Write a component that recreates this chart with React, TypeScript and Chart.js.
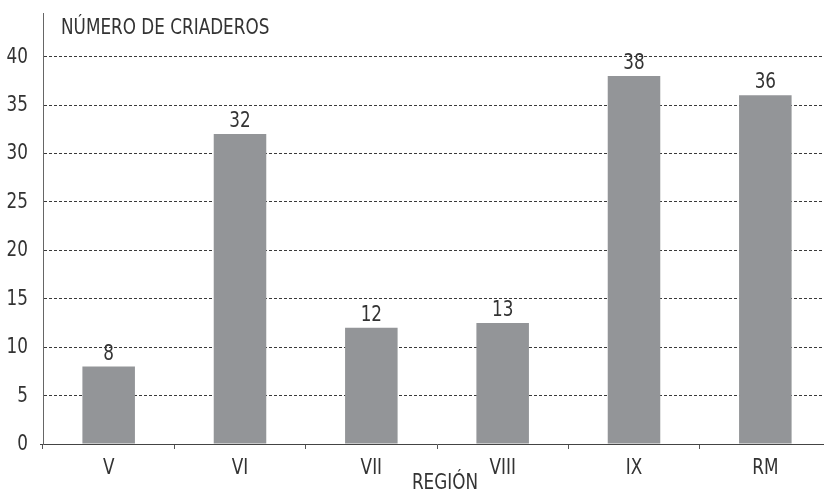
import React, { useEffect, useRef } from "react";
import { Chart, registerables } from "chart.js";

Chart.register(...registerables);

const categories = ["V", "VI", "VII", "VIII", "IX", "RM"];
const values = [8, 32, 12, 12.5, 38, 36];
const valueLabels = ["8", "32", "12", "13", "38", "36"];
const yTicks = [0, 5, 10, 15, 20, 25, 30, 35, 40];
const yTitle = "NÚMERO DE CRIADEROS";
const xTitle = "REGIÓN";

const FONT = "'DejaVu Sans Condensed', 'Liberation Sans Narrow', sans-serif";
const TEXT = "#333333";
const SIZE = 22;
const SQUEEZE = 0.85;

function drawText(ctx: CanvasRenderingContext2D, text: string, x: number, y: number, align: CanvasTextAlign) {
  ctx.save();
  ctx.translate(x, y);
  ctx.scale(SQUEEZE, 1);
  ctx.font = `${SIZE}px ${FONT}`;
  ctx.fillStyle = TEXT;
  ctx.textAlign = align;
  ctx.textBaseline = "alphabetic";
  ctx.fillText(text, 0, 0);
  ctx.restore();
}

const textLayer = {
  id: "textLayer",
  afterDraw(chart: any) {
    const ctx = chart.ctx;
    const xs = chart.scales.x;
    const ys = chart.scales.y;
    const area = chart.chartArea;
    // bar value labels
    const meta = chart.getDatasetMeta(0);
    meta.data.forEach((bar: any, i: number) => {
      drawText(ctx, valueLabels[i], bar.x, bar.y - 7, "center");
    });
    // y tick labels
    yTicks.forEach((v) => {
      drawText(ctx, String(v), area.left - 15, ys.getPixelForValue(v) + 6, "right");
    });
    // x tick labels
    categories.forEach((c, i) => {
      drawText(ctx, c, xs.getPixelForValue(i), area.bottom + 30, "center");
    });
    // axis titles
    drawText(ctx, xTitle, (area.left + area.right) / 2 + 8, area.bottom + 45, "center");
    drawText(ctx, yTitle, area.left + 18, 34, "left");
  },
};

export default function App() {
  const ref = useRef<HTMLCanvasElement>(null);
  useEffect(() => {
    document.body.style.margin = "0";
    document.body.style.overflow = "hidden";
    const chart = new Chart(ref.current!, {
      type: "bar",
      data: {
        labels: categories,
        datasets: [
          {
            data: values,
            backgroundColor: "#939598",
            barPercentage: 0.4,
            categoryPercentage: 1,
          },
        ],
      },
      options: {
        animation: false,
        responsive: false,
        maintainAspectRatio: false,
        layout: { padding: { top: 13, left: 0, right: 0, bottom: 0 } },
        plugins: { legend: { display: false }, tooltip: { enabled: false } },
        scales: {
          x: {
            offset: true,
            grid: {
              offset: true,
              drawOnChartArea: false,
              drawTicks: true,
              tickLength: 5,
              color: "#555555",
            },
            border: { color: "#444444", width: 1 },
            ticks: { display: false },
            afterFit: (scale: any) => {
              scale.height = 46;
              scale.paddingLeft = 0;
              scale.paddingRight = 0;
            },
          },
          y: {
            min: 0,
            max: 44.5,
            afterBuildTicks: (scale: any) => {
              scale.ticks = yTicks.map((v) => ({ value: v }));
            },
            grid: {
              drawTicks: true,
              tickLength: 3,
              tickColor: (c: any) => (c.tick && c.tick.value === 0 ? "#444444" : "rgba(0,0,0,0)"),
              color: (c: any) => (c.tick && c.tick.value === 0 ? "rgba(0,0,0,0)" : "#3a3a3a"),
              lineWidth: 1,
            },
            border: { color: "#666666", width: 1, dash: [3, 2], dashOffset: 0 } as any,
            ticks: { display: false },
            afterFit: (scale: any) => {
              scale.width = 43;
              scale.paddingTop = 0;
              scale.paddingBottom = 0;
            },
          },
        },
      },
      plugins: [textLayer],
    });
    return () => chart.destroy();
  }, []);
  return (
    <div style={{ width: 831, height: 490, overflow: "hidden" }}>
      <canvas ref={ref} width={831} height={490} style={{ width: 831, height: 490, display: "block" }} />
    </div>
  );
}
